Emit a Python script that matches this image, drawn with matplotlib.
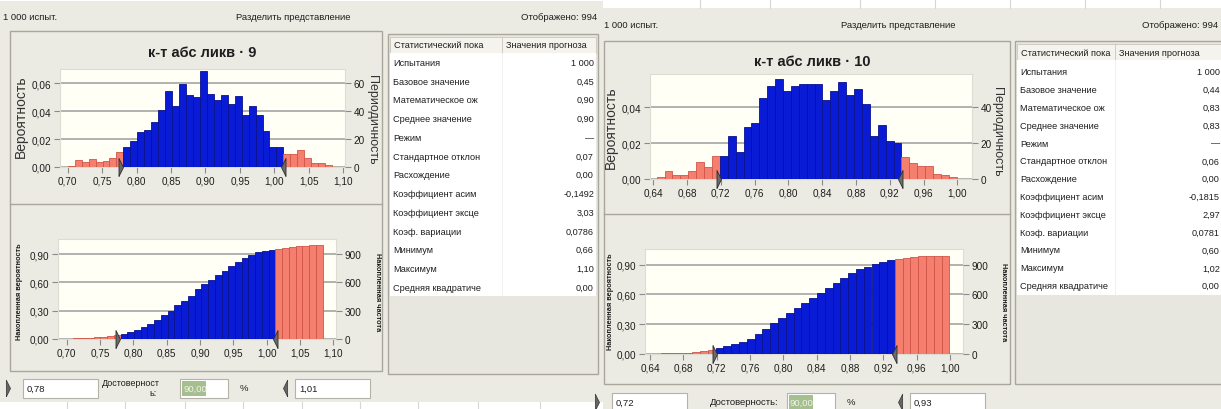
import numpy as np
import matplotlib.pyplot as plt
from matplotlib.patches import Rectangle
from matplotlib.ticker import FuncFormatter

plt.rcParams['font.family'] = ['Liberation Sans', 'DejaVu Sans']

# ---------------- data ----------------
trials = 1000
shown = 994

# к-т абс ликв · 9
bin_start_9 = 0.70
bin_width_9 = 0.0101
prob_9 = [0.001, 0.0048, 0.0036, 0.006, 0.0036, 0.0043, 0.0067, 0.0108,
          0.014, 0.019, 0.025, 0.0265, 0.032, 0.041, 0.0545, 0.0434, 0.0595, 0.0518,
          0.050, 0.069, 0.0523, 0.048, 0.0513, 0.045, 0.0506, 0.037, 0.044, 0.0376,
          0.026, 0.0147, 0.0147,
          0.0096, 0.0096, 0.012, 0.0067, 0.0031, 0.0031, 0.0012]
certainty_9 = (0.78, 1.01)
xticks_9 = [0.70, 0.75, 0.80, 0.85, 0.90, 0.95, 1.00, 1.05, 1.10]
yticks_9 = [0.00, 0.02, 0.04, 0.06]
fticks_9 = [0, 20, 40, 60]

# к-т абс ликв · 10
bin_start_10 = 0.644
bin_width_10 = 0.00935
prob_10 = [0.001, 0.0045, 0.0025, 0.0025, 0.0045, 0.0095, 0.0065, 0.013,
           0.013, 0.024, 0.015, 0.029, 0.031, 0.045, 0.052, 0.056, 0.049, 0.052,
           0.053, 0.053, 0.053, 0.044, 0.049, 0.054, 0.047, 0.050, 0.042, 0.024,
           0.030, 0.021, 0.020,
           0.012, 0.009, 0.007, 0.007, 0.003, 0.002, 0.001]
certainty_10 = (0.72, 0.93)
xticks_10 = [0.64, 0.68, 0.72, 0.76, 0.80, 0.84, 0.88, 0.92, 0.96, 1.00]
yticks_10 = [0.00, 0.02, 0.04]
fticks_10 = [0, 20, 40]

cum_yticks = [0.00, 0.30, 0.60, 0.90]
cum_fticks = [0, 300, 600, 900]

stat_names = ['Испытания', 'Базовое значение', 'Математическое ож', 'Среднее значение',
              'Режим', 'Стандартное отклон', 'Расхождение', 'Коэффициент асим',
              'Коэффициент эксце', 'Коэф. вариации', 'Минимум', 'Максимум',
              'Средняя квадратиче']
stat_values_9 = ['1 000', '0,45', '0,90', '0,90', '—', '0,07', '0,00', '-0,1492',
                 '3,03', '0,0786', '0,66', '1,10', '0,00']
stat_values_10 = ['1 000', '0,44', '0,83', '0,83', '—', '0,06', '0,00', '-0,1815',
                  '2,97', '0,0781', '0,60', '1,02', '0,00']
certainty_level = '90,00'

# ---------------- styling ----------------
W, H = 1221, 410
PANEL = '#ecebe3'
FRAME = '#a9a79c'
PLOT_BG = '#fffff6'
BLUE, BLUE_E = '#0a1bd6', '#0a128c'
RED, RED_E = '#f47f6f', '#cf5548'
TXT = '#1e1e1e'
TRI_R = [(-1, -2), (0, 0), (-1, 2), (-1, -2)]
TRI_L = [(1, -2), (0, 0), (1, 2), (1, -2)]

fig = plt.figure(figsize=(W / 100, H / 100), dpi=100, facecolor='white')
bg = fig.add_axes([0, 0, 1, 1])
bg.set_xlim(0, W)
bg.set_ylim(H, 0)
bg.axis('off')


def px(x0, y0, x1, y1):
    return [x0 / W, 1 - y1 / H, (x1 - x0) / W, (y1 - y0) / H]


def box(x0, y0, x1, y1, fc='none', ec='none', lw=1.0):
    bg.add_patch(Rectangle((x0, y0), x1 - x0, y1 - y0, facecolor=fc,
                           edgecolor=ec, linewidth=lw))


def txt(x, y, s, size=6.8, ha='left', **kw):
    kw.setdefault('color', TXT)
    bg.text(x, y, s, fontsize=size, ha=ha, va='center', **kw)


def comma(v, pos):
    return f'{v:.2f}'.replace('.', ',')


def chart(rect, start, width, probs, cert, xlim, ylim, xticks, yticks, fticks, cumulative=False):
    ax = fig.add_axes(px(*rect))
    p = np.array(probs)
    if cumulative:
        p = np.cumsum(p)
    left = start + width * np.arange(len(p))
    mid = left + width / 2
    inside = (mid >= cert[0]) & (mid <= cert[1])
    ax.bar(left, p, width=width, align='edge',
           color=[BLUE if k else RED for k in inside],
           edgecolor=[BLUE_E if k else RED_E for k in inside],
           linewidth=0.6, zorder=3)
    ax.plot([cert[0]], [0], marker=TRI_R, ms=13, color='#6a6a6a', mec='#2e2e2e',
            mew=0.6, ls='none', clip_on=False, zorder=6)
    ax.plot([cert[1]], [0], marker=TRI_L, ms=13, color='#6a6a6a', mec='#2e2e2e',
            mew=0.6, ls='none', clip_on=False, zorder=6)
    ax.set_facecolor(PLOT_BG)
    ax.set_xlim(*xlim)
    ax.set_ylim(*ylim)
    ax.set_xticks(xticks)
    ax.set_yticks(yticks)
    ax.xaxis.set_major_formatter(FuncFormatter(comma))
    ax.yaxis.set_major_formatter(FuncFormatter(comma))
    ax.yaxis.grid(True, color='#9c9c9c', lw=1.1)
    ax.set_axisbelow(True)
    ax.tick_params(labelsize=7.2, length=4, color='#8a8a8a', pad=2, labelcolor=TXT)
    for s in ax.spines.values():
        s.set_color('#dcdcd2')
        s.set_linewidth(0.8)
    tw = ax.twinx()
    tw.set_ylim(ylim[0] * trials, ylim[1] * trials)
    tw.set_yticks(fticks)
    tw.tick_params(labelsize=7.2, length=4, color='#8a8a8a', pad=2, labelcolor=TXT)
    for s in tw.spines.values():
        s.set_visible(False)
    return ax


def stats_table(x0, y0, x1, y1, xdiv, head_h, row0, step, values):
    box(x0, y0, x1, y1, fc='#e8e7df', ec=FRAME)
    box(x0 + 2, y0 + 3, x1 - 2, y0 + 3 + head_h, fc='#f4f3ed', ec='#c9c7bb', lw=0.6)
    bg.plot([xdiv, xdiv], [y0 + 3, y0 + 3 + head_h], color='#c9c7bb', lw=0.6)
    txt(x0 + 6, y0 + 3 + head_h / 2, 'Статистический пока', size=6.6)
    txt(xdiv + 4, y0 + 3 + head_h / 2, 'Значения прогноза', size=6.6)
    box(x0 + 2, y0 + 3 + head_h, x1 - 2, row0 + 12 * step + 9, fc='white')
    bg.plot([xdiv, xdiv], [y0 + 3 + head_h, row0 + 12 * step + 9], color='#eeeeee', lw=0.6)
    for i, (name, val) in enumerate(zip(stat_names, values)):
        y = row0 + i * step
        txt(x0 + 5, y, name, size=6.6)
        txt(x1 - 4, y, val, size=6.6, ha='right')


def controls(y, x_lo, lo_txt, label, two_lines, x_green, x_hi, hi_txt):
    bg.plot([x_lo - 13], [y], marker=TRI_R, ms=12, color='#666666', mec='#333333',
            mew=0.5, ls='none', clip_on=False)
    box(x_lo, y - 9.5, x_lo + 75, y + 9.5, fc='white', ec='#b5b3a8', lw=0.8)
    txt(x_lo + 4, y, lo_txt, size=6.8)
    if two_lines:
        txt(x_lo + 108, y - 5, label, size=6.5, ha='center')
        txt(x_lo + 126, y + 5, 'ь:', size=6.5)
    else:
        txt(x_green - 77, y, label, size=6.8)
    box(x_green, y - 9.5, x_green + 48, y + 9.5, fc='white', ec='#b5b3a8', lw=0.8)
    box(x_green + 2, y - 7.5, x_green + 26, y + 7.5, fc='#a6bf8f')
    txt(x_green + 3, y, certainty_level, size=6.8, color='#eef4e6')
    txt(x_green + 60, y, '%', size=6.8)
    bg.plot([x_hi - 12], [y], marker=TRI_L, ms=12, color='#666666', mec='#333333',
            mew=0.5, ls='none', clip_on=False)
    box(x_hi, y - 9.5, x_hi + 75, y + 9.5, fc='white', ec='#b5b3a8', lw=0.8)
    txt(x_hi + 4, y, hi_txt, size=6.8)


# ---------------- left window: к-т абс ликв · 9 ----------------
box(0, 2, 603, 403, fc=PANEL)
for xv in [67, 125, 185, 243, 302, 360, 418, 478, 540]:
    bg.plot([xv, xv], [403, 410], color='#d6d6d6', lw=0.8)
txt(3, 17, '1 000 испыт.', size=6.8)
txt(293, 17, 'Разделить представление', size=6.8, ha='center')
txt(597, 17, f'Отображено: {shown}', size=6.8, ha='right')
box(10, 32, 382, 372, ec=FRAME)
bg.plot([10, 382], [205, 205], color=FRAME, lw=1)
txt(202, 53, 'к-т абс ликв · 9', size=10.5, ha='center', fontweight='bold')
txt(21, 117, 'Вероятность', size=10, ha='center', rotation=90, color='#333333')
txt(372, 120, 'Периодичность', size=9, ha='center', rotation=270, color='#333333')
txt(20, 292, 'Накопленная вероятность', size=5.3, ha='center', rotation=90, fontweight='bold')
txt(378, 292, 'Накопленная частота', size=5.3, ha='center', rotation=270, fontweight='bold')
stats_table(388, 35, 598, 375, 502, 16, 63.3, 18.75, stat_values_9)
controls(389, 23, '0,78', 'Достоверност', True, 180, 295, '1,01')

# ---------------- right window: к-т абс ликв · 10 ----------------
for xv in [700, 770, 860, 935, 1010, 1085, 1160]:
    bg.plot([xv, xv], [0, 9], color='#d6d6d6', lw=0.8)
box(603, 9, 1221, 410, fc=PANEL)
txt(604, 25, '1 000 испыт.', size=6.8)
txt(898, 25, 'Разделить представление', size=6.8, ha='center')
txt(1218, 25, f'Отображено: {shown}', size=6.8, ha='right')
box(604, 42, 1010, 385, ec=FRAME)
bg.plot([604, 1010], [215, 215], color=FRAME, lw=1)
txt(812, 62, 'к-т абс ликв · 10', size=10.5, ha='center', fontweight='bold')
txt(611, 128, 'Вероятность', size=10, ha='center', rotation=90, color='#333333')
txt(997, 132, 'Периодичность', size=9, ha='center', rotation=270, color='#333333')
txt(610, 302, 'Накопленная вероятность', size=5.3, ha='center', rotation=90, fontweight='bold')
txt(1004, 302, 'Накопленная частота', size=5.3, ha='center', rotation=270, fontweight='bold')
stats_table(1015, 42, 1224, 385, 1115, 16, 72.7, 17.83, stat_values_10)
controls(403, 612, '0,72', 'Достоверность:', False, 787, 910, '0,93')

# ---------------- charts ----------------
chart((60, 70, 345, 168), bin_start_9, bin_width_9, prob_9, certainty_9,
      (0.6888, 1.1025), (0, 0.0703), xticks_9, yticks_9, fticks_9)
chart((58, 240, 336, 340), bin_start_9, bin_width_9, prob_9, certainty_9,
      (0.687, 1.104), (0, 1.059), xticks_9, cum_yticks, cum_fticks, cumulative=True)
chart((650, 75, 972, 180), bin_start_10, bin_width_10, prob_10, certainty_10,
      (0.6361, 1.0174), (0, 0.0586), xticks_10, yticks_10, fticks_10)
chart((645, 250, 963, 355), bin_start_10, bin_width_10, prob_10, certainty_10,
      (0.634, 1.0156), (0, 1.058), xticks_10, cum_yticks, cum_fticks, cumulative=True)

fig.savefig('out.png', dpi=100)
